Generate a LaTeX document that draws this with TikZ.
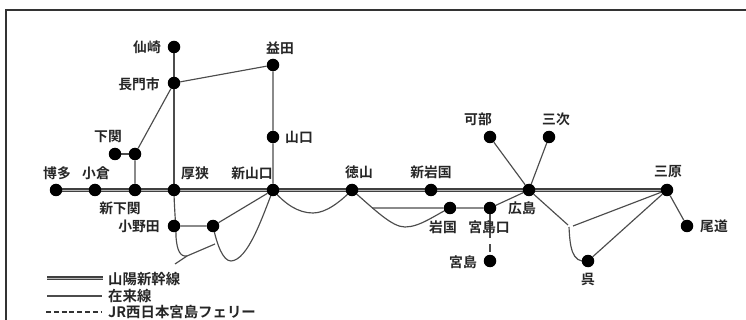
\documentclass[tikz,border=0pt]{standalone}
\usepackage{fontspec}
\usetikzlibrary{backgrounds}
\setmainfont{Noto Sans CJK JP}[BoldFont={Noto Sans CJK JP Bold}]
\begin{document}
\begin{tikzpicture}[x=1pt,y=-1pt,
  stn/.style={circle,fill=black,inner sep=0pt,minimum size=12.5pt},
  lbl/.style={font=\fontsize{13.8}{15}\selectfont\bfseries,inner sep=0pt,text=black!85},
  leg/.style={font=\fontsize{14.4}{16}\selectfont\bfseries,inner sep=0pt,text=black!85,anchor=west},
  line/.style={draw=black!70,line width=1.15pt},
  shin/.style={draw=black!75,line width=3.6pt},
  shinin/.style={draw=white!72!black,line width=0.9pt},
  ferry/.style={draw=black!80,line width=1.5pt,dash pattern=on 5pt off 2.8pt}]
\useasboundingbox (0,0) rectangle (746,320);
\foreach \n/\x/\y in {sen/174/47,nag/174/83,mas/273/65,yam/273/137,shi/115/154,shj/135/154,hak/56/190,kok/95/190,sns/135/190,asa/174/190,sny/273/190,ono/174/226,onj/213/226,tok/352/190,sni/431/190,hir/529/190,mih/667/190,kab/490/137,mit/549/137,iwa/450/208,myg/490/208,myj/490/261,kur/588/261,ond/687/226}
  \node[stn] (\n) at (\x,\y) {};
\coordinate (k1) at (568,225);
\coordinate (k2) at (569,227);
\coordinate (k3) at (573,226);
\coordinate (t1) at (175,264);
\coordinate (t2) at (187,256);
\coordinate (t3) at (215,244);
\coordinate (w1) at (372,208);
\coordinate (fa) at (6,320); \coordinate (fb) at (6,10); \coordinate (fc) at (746,10);
\begin{pgfonlayer}{background}
\fill[white] (0,0) rectangle (746,320);
\draw[black!80,line width=1.3pt] (fa)--(fb)--(fc);
\draw[shin] (hak.center)--(mih.center);
\draw[shinin] (hak.center)--(mih.center);
\draw[line] (sen)--(asa);
\draw[line] (nag)--(mas)--(yam)--(sny);
\draw[line] (nag)--(shj)--(sns);
\draw[line] (shi)--(shj);
\draw[line] (asa.center) .. controls (174,205) and (176,225) .. (176,237) .. controls (177,250) and (180,257) .. (t2);
\draw[line] (t1)--(t2)--(t3);
\draw[line] (ono)--(onj)--(sny);
\draw[line] (onj.center) .. controls (217,245) and (223,261) .. (231,261) .. controls (248,260) and (262,218) .. (sny.center);
\draw[line] (sny.center) .. controls (285,204) and (298,213) .. (313,213) .. controls (326,213) and (340,202) .. (tok.center);
\draw[line] (tok.center) .. controls (375,210) and (392,227) .. (405,227) .. controls (420,227) and (435,215) .. (iwa.center);
\draw[line] (w1)--(iwa)--(myg)--(hir);
\draw[line] (kab)--(hir)--(mit);
\draw[line] (hir)--(k1);
\draw[line] (k2) .. controls (570,245) and (571,264) .. (kur.center);
\draw[line] (k3)--(mih)--(kur);
\draw[line] (mih)--(ond);
\draw[line,dash pattern=on 30pt off 6pt on 8pt off 20pt] (myg.center)--(myj.center);
\end{pgfonlayer}
\node[lbl] (l1) at (147,47.5) {仙崎};
\node[lbl] (l2) at (139,84) {長門市};
\node[lbl] (l3) at (280,48) {益田};
\node[lbl] (l4) at (299,137) {山口};
\node[lbl] (l5) at (108,137) {下関};
\node[lbl] (l6) at (57,173) {博多};
\node[lbl] (l7) at (96,173) {小倉};
\node[lbl] (l8) at (120,208) {新下関};
\node[lbl] (l9) at (195,173) {厚狭};
\node[lbl] (l10) at (252,173) {新山口};
\node[lbl] (l11) at (139,226.5) {小野田};
\node[lbl] (l12) at (359,172) {徳山};
\node[lbl] (l13) at (431,172) {新岩国};
\node[lbl] (l14) at (478,119) {可部};
\node[lbl] (l15) at (556,119) {三次};
\node[lbl] (l16) at (668,172) {三原};
\node[lbl] (l17) at (522,208) {広島};
\node[lbl] (l18) at (443,227) {岩国};
\node[lbl] (l19) at (489,227) {宮島口};
\node[lbl] (l20) at (463,262) {宮島};
\node[lbl] (l21) at (588,279) {呉};
\node[lbl] (l22) at (714,226) {尾道};
\coordinate (a1) at (47,278); \coordinate (a2) at (103,278);
\coordinate (b1) at (47,296); \coordinate (b2) at (102,296);
\coordinate (c1) at (46,312); \coordinate (c2) at (101,312);
\draw[shin] (a1)--(a2);
\draw[shinin] (a1)--(a2);
\draw[line] (b1)--(b2);
\draw[ferry] (c1)--(c2);
\node[leg] (k1t) at (108,279) {山陽新幹線};
\node[leg] (k2t) at (108,296.5) {在来線};
\node[leg] (k3t) at (108,312.5) {JR西日本宮島フェリー};
\end{tikzpicture}
\end{document}
